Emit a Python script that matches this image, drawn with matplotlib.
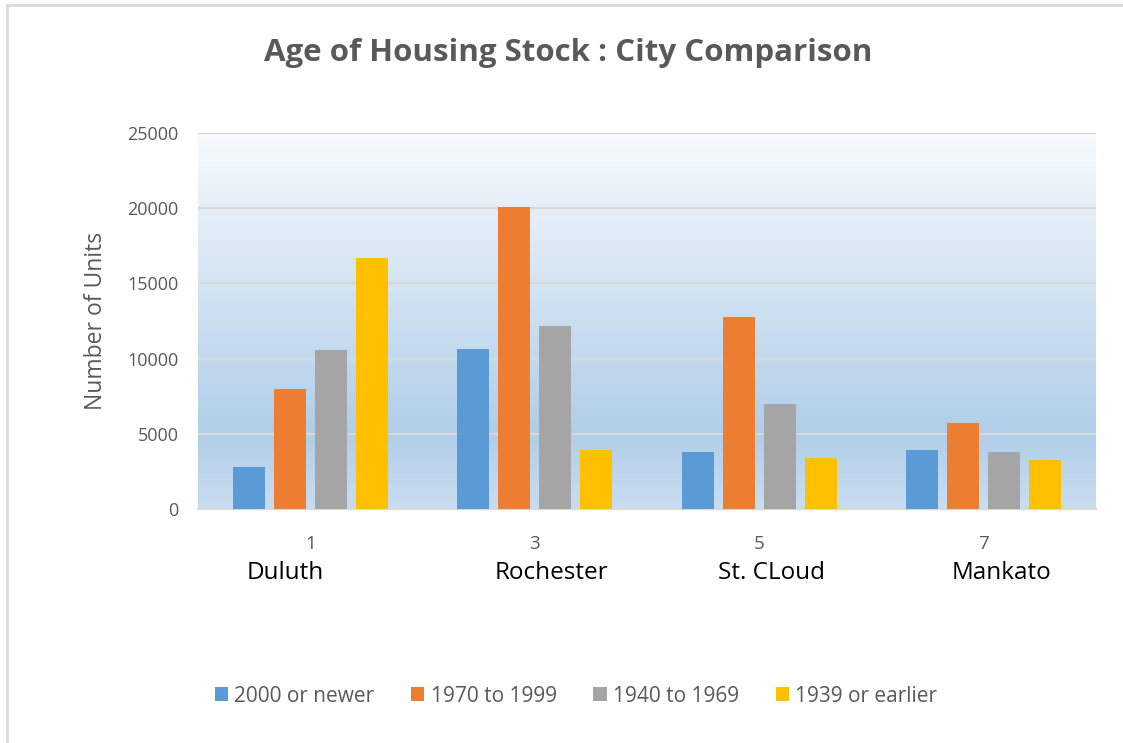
import numpy as np
import matplotlib.pyplot as plt
from matplotlib.colors import LinearSegmentedColormap

# data
positions = [1, 3, 5, 7]
cities = ['Duluth', 'Rochester', 'St. CLoud', 'Mankato']
city_x = [0.78, 3.15, 5.11, 7.16]   # where the hand-placed city text boxes sit
series = ['2000 or newer', '1970 to 1999', '1940 to 1969', '1939 or earlier']
new2000 = [2800, 10650, 3800, 3900]
y1970 = [8000, 20050, 12750, 5750]
y1940 = [10600, 12150, 7000, 3800]
pre1939 = [16700, 3900, 3400, 3250]
colors = ['#5b9bd5', '#ed7d31', '#a5a5a5', '#ffc000']
yticks = [0, 5000, 10000, 15000, 20000, 25000]

txt = '#595959'
font = 'Open Sans'

fig = plt.figure(figsize=(11.23, 7.43), dpi=100)
ax = fig.add_axes([198/1123, 1-509/743, (1096-198)/1123, (509-133)/743])

# gradient background like the excel plot area
cmap = LinearSegmentedColormap.from_list('bg', [(0, '#c9ddf0'), (0.2, '#b0cee9'), (1, '#f7fafd')])
grad = np.linspace(0, 1, 256).reshape(-1, 1)
ax.imshow(grad, cmap=cmap, aspect='auto', extent=[0, 8, 0, 25000], origin='lower', zorder=0)

width = 0.285
step = 0.366
for i, (vals, c, lab) in enumerate(zip([new2000, y1970, y1940, pre1939], colors, series)):
    xs = np.array(positions) + (i - 1.5) * step
    ax.bar(xs, vals, width=width, color=c, label=lab, zorder=3)

ax.set_xlim(0, 8)
ax.set_ylim(0, 25000)
ax.set_yticks(yticks)
ax.set_yticklabels([str(v) for v in yticks], fontsize=13, color=txt, family=font)
ax.set_xticks(positions)
ax.set_xticklabels([str(p) for p in positions], fontsize=13.5, color=txt, family=font)
ax.tick_params(axis='both', length=0)
ax.tick_params(axis='x', pad=19)
ax.tick_params(axis='y', pad=14)
ax.grid(axis='y', color='#d9d9d9', linewidth=1.6, zorder=1)
ax.set_axisbelow(False)
for s in ['top', 'right', 'left']:
    ax.spines[s].set_visible(False)
ax.spines['bottom'].set_color('#d9d9d9')
ax.spines['bottom'].set_linewidth(1.6)
ax.set_ylabel('Number of Units', fontsize=16.5, color=txt, family=font, labelpad=14)

for x, name in zip(city_x, cities):
    ax.text(x, -0.17, name, transform=ax.get_xaxis_transform(), ha='center', va='center',
            fontsize=17.5, color='black', family=font)

fig.text(568/1123, 1-53/743, 'Age of Housing Stock : City Comparison', ha='center', va='center',
         fontsize=22.5, fontweight='bold', color=txt, family=font)

leg = fig.legend(loc='center', bbox_to_anchor=(576/1123, 1-696/743), ncol=4, frameon=False,
                 handlelength=0.65, handleheight=0.65, handletextpad=0.3, columnspacing=1.75,
                 prop={'family': font, 'size': 15})
for t in leg.get_texts():
    t.set_color(txt)

# chart frame (top and left edges visible in the screenshot)
fig.add_artist(plt.Line2D([7/1123, 7/1123], [0, 1-5/743], color='#d9d9d9', linewidth=2, transform=fig.transFigure))
fig.add_artist(plt.Line2D([7/1123, 1], [1-5/743, 1-5/743], color='#d9d9d9', linewidth=2, transform=fig.transFigure))

fig.savefig('out.png', dpi=100)
